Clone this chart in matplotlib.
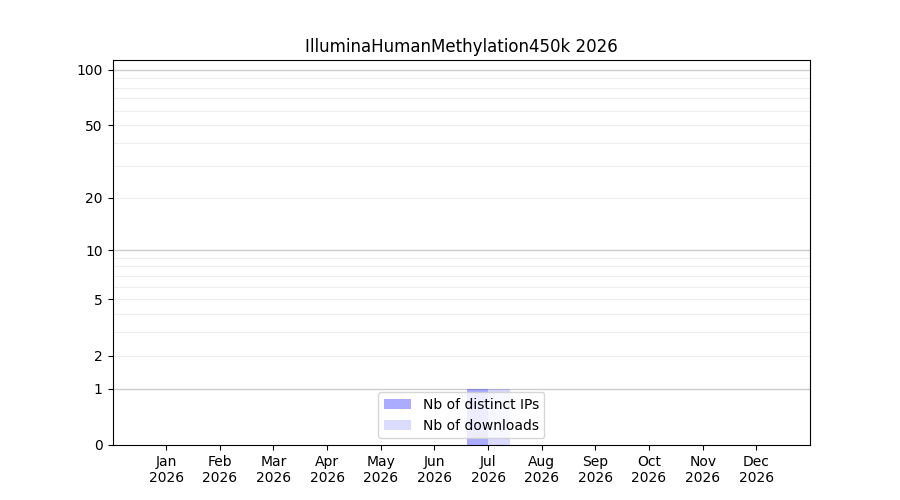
import matplotlib

matplotlib.use("Agg")
import matplotlib.pyplot as plt
import numpy as np

# Monthly stats for 2026
months = ["Jan", "Feb", "Mar", "Apr", "May", "Jun",
          "Jul", "Aug", "Sep", "Oct", "Nov", "Dec"]
year = 2026
distinct_ips = [0, 0, 0, 0, 0, 0, 1, 0, 0, 0, 0, 0]
downloads = [0, 0, 0, 0, 0, 0, 1, 0, 0, 0, 0, 0]
ytick_vals = [0, 1, 2, 5, 10, 20, 50, 100]

fig, ax = plt.subplots(figsize=(9, 5), dpi=100)

ax.set_yscale("function", functions=(lambda y: np.log10(np.maximum(y, 0) + 1),
                                     lambda y: 10 ** y - 1))

x = np.arange(1, len(months) + 1)
w = 0.4
ax.bar(x - w, distinct_ips, width=w, align="edge", color="blue", alpha=0.33,
       label="Nb of distinct IPs", zorder=2)
ax.bar(x, downloads, width=w, align="edge", color="blue", alpha=0.14,
       label="Nb of downloads", zorder=2)

ax.set_xlim(0, 13)
ax.set_ylim(0, 113)
ax.set_xticks(x)
ax.set_xticklabels([f"{m}\n{year}" for m in months])
ax.set_yticks(ytick_vals)
ax.set_yticklabels([str(v) for v in ytick_vals])

# grid lines like a log axis
for v in [1, 10, 100]:
    ax.axhline(v, color="#cccccc", linewidth=1, zorder=1)
minor = [v for d in (1, 10) for v in range(2 * d, 10 * d, d)]
for v in minor:
    ax.axhline(v, color="#eeeeee", linewidth=0.8, zorder=1)

ax.set_title(f"IlluminaHumanMethylation450k {year}")
ax.legend(loc="lower center")

fig.savefig("out.png", dpi=100)
